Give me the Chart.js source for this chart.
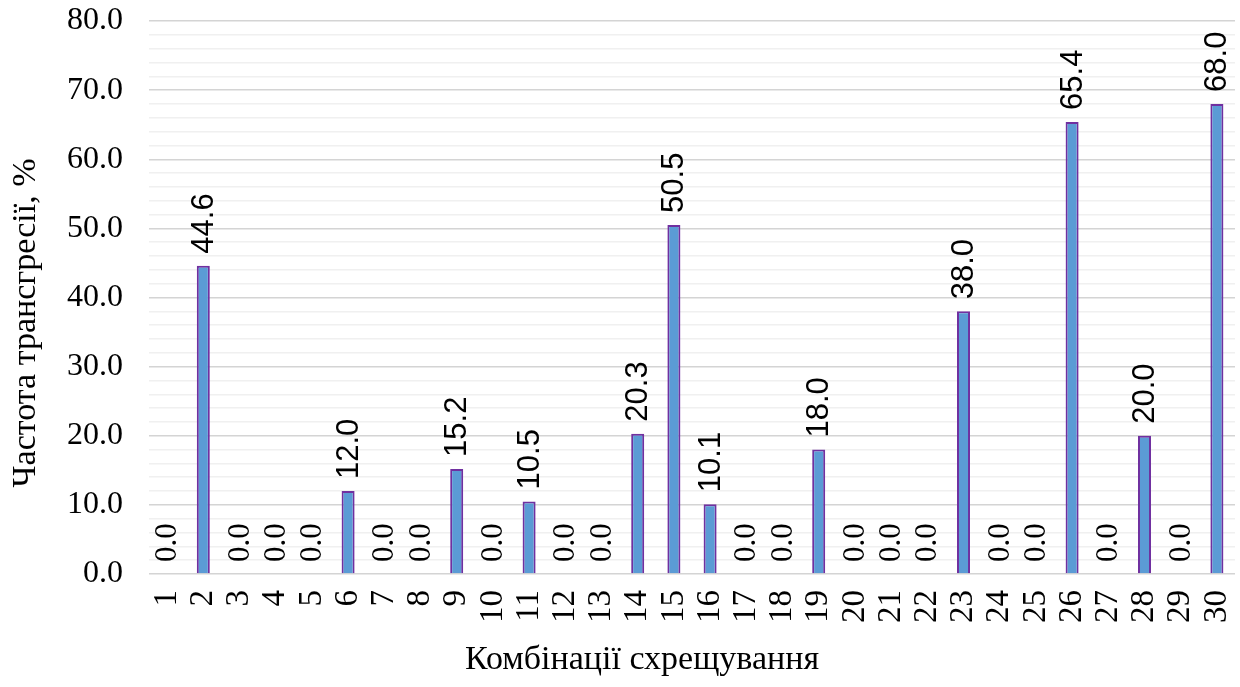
<!DOCTYPE html>
<html>
<head>
<meta charset="utf-8">
<script src="https://cdn.jsdelivr.net/npm/chart.js@4/dist/chart.umd.min.js"></script>
<style>
  html, body { margin: 0; padding: 0; background: #ffffff; }
  #wrap { width: 1240px; height: 687px; }
</style>
</head>
<body>
<div id="wrap"><canvas id="chart" width="1240" height="687"></canvas></div>
<script>
// Combination numbers along the x axis
const combinations = ['1','2','3','4','5','6','7','8','9','10','11','12','13','14','15','16','17','18','19','20','21','22','23','24','25','26','27','28','29','30'];
// Transgression frequency per combination, %
const frequency = [0.0, 44.6, 0.0, 0.0, 0.0, 12.0, 0.0, 0.0, 15.2, 0.0, 10.5, 0.0, 0.0, 20.3, 50.5, 10.1, 0.0, 0.0, 18.0, 0.0, 0.0, 0.0, 38.0, 0.0, 0.0, 65.4, 0.0, 20.0, 0.0, 68.0];
// Axis titles
const xTitle = 'Комбінації схрещування';
const yTitle = 'Частота трансгресії, %';

const SERIF = '"Liberation Serif", "Times New Roman", serif';
const SANS = '"Liberation Sans", Arial, sans-serif';

// Rotated value labels above each bar
const valueLabels = {
  id: 'valueLabels',
  afterDatasetsDraw(chart) {
    const ctx = chart.ctx;
    const meta = chart.getDatasetMeta(0);
    const data = chart.data.datasets[0].data;
    meta.data.forEach((bar, i) => {
      const v = data[i];
      ctx.save();
      ctx.translate(bar.x, bar.y - 12);
      ctx.rotate(-Math.PI / 2);
      ctx.font = v === 0 ? ('31px ' + SERIF) : ('31px ' + SANS);
      ctx.fillStyle = '#000000';
      ctx.textAlign = 'left';
      ctx.textBaseline = 'middle';
      ctx.fillText(v.toFixed(1), 0, 1);
      ctx.restore();
    });
  }
};

// Axis titles placed relative to the canvas
const axisTitles = {
  id: 'axisTitles',
  afterDraw(chart) {
    const ctx = chart.ctx;
    ctx.save();
    ctx.fillStyle = '#000000';
    ctx.font = '34px ' + SERIF;
    ctx.textAlign = 'center';
    ctx.textBaseline = 'middle';
    ctx.fillText(xTitle, 642, 660);
    ctx.translate(26, 323);
    ctx.rotate(-Math.PI / 2);
    ctx.fillText(yTitle, 0, 0);
    ctx.restore();
  }
};

new Chart(document.getElementById('chart'), {
  type: 'bar',
  data: {
    labels: combinations,
    datasets: [{
      data: frequency,
      backgroundColor: '#5b9bd5',
      borderColor: '#7030a0',
      borderWidth: 2,
      barPercentage: 0.36,
      categoryPercentage: 1.0
    }]
  },
  options: {
    responsive: false,
    animation: false,
    layout: { padding: { top: 21, right: 5, left: 0, bottom: 0 } },
    plugins: {
      legend: { display: false },
      tooltip: { enabled: false }
    },
    scales: {
      x: {
        grid: { display: false, drawTicks: false },
        border: { display: false },
        ticks: {
          color: '#000000',
          font: { family: SERIF, size: 33 },
          maxRotation: 90,
          minRotation: 90,
          autoSkip: false,
          padding: 16
        },
        afterFit(scale) {
          scale.height = 113;
          scale.paddingLeft = 0;
          scale.paddingRight = 0;
        }
      },
      y: {
        min: 0,
        max: 80,
        grid: {
          drawTicks: false,
          lineWidth: 1.5,
          color: (c) => (c.tick && c.tick.value % 10 === 0) ? '#d4d4d4' : '#f0f0f0'
        },
        border: { display: false },
        ticks: {
          stepSize: 2,
          autoSkip: false,
          color: '#000000',
          font: { family: SERIF, size: 32 },
          padding: 26,
          callback: (v) => (v % 10 === 0 ? v.toFixed(1) : '')
        },
        afterFit(scale) {
          scale.width = 149;
          scale.paddingTop = 0;
          scale.paddingBottom = 0;
        }
      }
    }
  },
  plugins: [valueLabels, axisTitles]
});
</script>
</body>
</html>
